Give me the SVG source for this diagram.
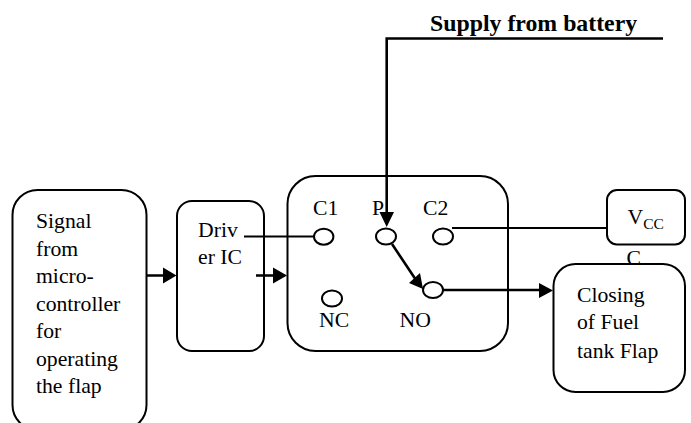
<svg xmlns="http://www.w3.org/2000/svg" width="691" height="423" viewBox="0 0 691 423">
<style>
.b{fill:#fff;stroke:#000;stroke-width:2}
.o{fill:#fff;stroke:#000;stroke-width:2}
.l{fill:none;stroke:#000;stroke-width:2}
.h{fill:none;stroke:#000;stroke-width:2.6}
.a{fill:#000;stroke:none}
text{font-family:"Liberation Serif","Times New Roman",serif;font-size:21.700px;fill:#000}
.s{font-size:15.500px}
.t{font-size:23.800px;font-weight:bold}
</style>
<rect width="691" height="423" fill="#fff"/>
<g id="signal"><rect class="b" x="12.500" y="190" width="134" height="240" rx="25"/>
<text x="36" y="228.300">Signal</text><text x="36" y="256">from</text><text x="36" y="283.300">micro-</text><text x="36" y="311">controller</text><text x="36" y="338.300">for</text><text x="36" y="366">operating</text><text x="36" y="393.300">the flap</text></g>
<g id="driver"><rect class="b" x="177" y="201" width="87" height="150" rx="15"/>
<text x="198" y="236.500">Driv</text><text x="198" y="264">er IC</text></g>
<g id="switch"><rect class="b" x="287.500" y="176" width="220.500" height="175" rx="28"/>
<text x="313" y="215">C1</text><text x="372" y="215">P</text><text x="423" y="215">C2</text><text x="319" y="326.500">NC</text><text x="399.500" y="326.500">NO</text></g>
<g id="vcc"><rect class="b" x="607" y="190" width="78" height="54.500" rx="10"/>
<text x="627.500" y="224">V<tspan class="s" dy="5">CC</tspan></text></g>
<text x="626.500" y="265">C</text>
<g id="closing"><rect class="b" x="553.500" y="264" width="131.500" height="128" rx="22"/>
<text x="577" y="301.700">Closing</text><text x="577" y="329.300">of Fuel</text><text x="577" y="358">tank Flap</text></g>
<text x="430" y="31" class="t">Supply from battery</text>
<g id="connectors">
<path class="l" d="M244 236.500H314M452 228H607"/>
<path class="h" d="M146.500 275.500H165M256 275.500H275M663 38.500H386.700V214M392 244L420 286M443 290H541"/>
<path class="a" d="M163 267.500L176.500 275.500L163 283.500ZM273 267.500L287 275.500L273 283.500ZM379.500 212H394L386.700 227ZM420 273L423 289L409 283ZM539 283L553 290.500L539 298Z"/>
</g>
<g id="ports"><ellipse class="o" cx="323.700" cy="236.700" rx="9.700" ry="8"/><ellipse class="o" cx="386" cy="236.500" rx="10" ry="8"/><ellipse class="o" cx="443" cy="236.500" rx="10" ry="8"/><ellipse class="o" cx="332" cy="298.500" rx="10" ry="8"/><ellipse class="o" cx="433" cy="290" rx="10" ry="8"/></g>
</svg>
